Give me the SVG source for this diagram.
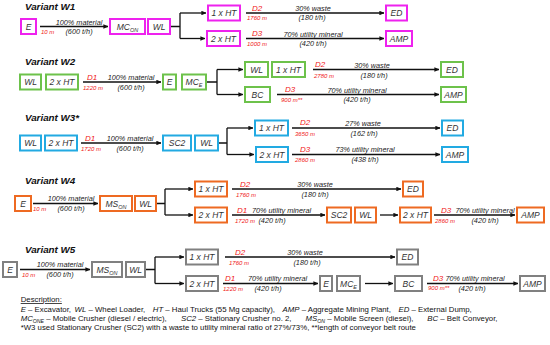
<svg xmlns="http://www.w3.org/2000/svg" width="550" height="345" viewBox="0 0 550 345">
<style>
text{font-family:"Liberation Sans",Arial,sans-serif}
.bx{fill:#fff;stroke-width:2}
.m{stroke:#EE22EE}
.g{stroke:#6DC24B}
.b{stroke:#22AAE2}
.o{stroke:#EE6A22}
.y{stroke:#808080}
.bt{font-style:italic;font-size:8.5px;fill:#333;text-anchor:middle}
.lb{font-style:italic;font-size:7.3px;fill:#222;text-anchor:middle}
.d{font-style:italic;font-size:8px;fill:#F01818;text-anchor:middle}
.dm{font-style:italic;font-size:6px;fill:#F01818}
.ti{font-style:italic;font-weight:bold;font-size:9.8px;fill:#111}
.desc{font-size:7.8px;fill:#111}
.it{font-style:italic}
.c line,.c path{stroke:#111;stroke-width:1.3;fill:none}
.c .a{marker-end:url(#ah)}
</style>
<defs>
<marker id="ah" viewBox="0 0 5 4.5" refX="4.6" refY="2.25" markerWidth="5" markerHeight="4.5" markerUnits="userSpaceOnUse" orient="auto">
<path d="M0,0 L5,2.25 L0,4.5 z" fill="#111"/>
</marker>
</defs>
<rect width="550" height="345" fill="#fff"/>

<!-- Titles -->
<g id="titles">
<text class="ti" x="25" y="10">Variant W1</text>
<text class="ti" x="25" y="65">Variant W2</text>
<text class="ti" x="25" y="121">Variant W3*</text>
<text class="ti" x="25" y="184">Variant W4</text>
<text class="ti" x="25" y="253">Variant W5</text>
</g>

<!-- Connectors -->
<g id="connectors" class="c">
<!-- W1 -->
<line class="a" x1="40" y1="26.5" x2="108" y2="26.5"/>
<path d="M170,26.5 H180 M180,13 V38.5"/>
<line class="a" x1="180" y1="13" x2="206" y2="13"/>
<line class="a" x1="180" y1="38.5" x2="205" y2="38.5"/>
<line class="a" x1="246" y1="13" x2="384" y2="13"/>
<line class="a" x1="246" y1="38.5" x2="384" y2="38.5"/>
<!-- W2 -->
<line class="a" x1="83" y1="82" x2="161" y2="82"/>
<path d="M206,82 H217 M217,69.5 V94.5"/>
<line class="a" x1="217" y1="69.5" x2="243" y2="69.5"/>
<line class="a" x1="217" y1="94.5" x2="243" y2="94.5"/>
<line class="a" x1="313" y1="69.5" x2="439" y2="69.5"/>
<line class="a" x1="277" y1="94.5" x2="439" y2="94.5"/>
<!-- W3 -->
<line class="a" x1="81" y1="143" x2="161" y2="143"/>
<path d="M218,143 H227 M227,128 V154.5"/>
<line class="a" x1="227" y1="128" x2="253" y2="128"/>
<line class="a" x1="227" y1="154.5" x2="254" y2="154.5"/>
<line class="a" x1="292" y1="128" x2="440" y2="128"/>
<line class="a" x1="292" y1="154.5" x2="440" y2="154.5"/>
<!-- W4 -->
<line class="a" x1="33" y1="203.5" x2="98" y2="203.5"/>
<path d="M156,203.5 H165 M165,189 V215"/>
<line class="a" x1="165" y1="189" x2="193" y2="189"/>
<line class="a" x1="165" y1="215" x2="193" y2="215"/>
<line class="a" x1="232" y1="189" x2="401" y2="189"/>
<line class="a" x1="232" y1="215" x2="325" y2="215"/>
<line class="a" x1="380" y1="215" x2="398" y2="215"/>
<line class="a" x1="434" y1="215" x2="515" y2="215"/>
<!-- W5 -->
<line class="a" x1="20" y1="269.5" x2="90" y2="269.5"/>
<path d="M145,269.5 H155 M155,257 V283.5"/>
<line class="a" x1="155" y1="257" x2="184" y2="257"/>
<line class="a" x1="155" y1="283.5" x2="184" y2="283.5"/>
<line class="a" x1="225" y1="257" x2="395" y2="257"/>
<line class="a" x1="223" y1="283.5" x2="318" y2="283.5"/>
<line class="a" x1="365" y1="283.5" x2="393" y2="283.5"/>
<line class="a" x1="427" y1="283.5" x2="518" y2="283.5"/>
</g>

<!-- Connector labels -->
<g id="labels">
<!-- W1 -->
<text class="lb" x="79" y="24.5">100% material</text>
<text class="lb" x="79" y="34">(600 t/h)</text>
<text class="dm" x="41" y="34">10 m</text>
<text class="d" x="257" y="10.5">D2</text>
<text class="dm" x="247" y="20">1760 m</text>
<text class="lb" x="313" y="11">30% waste</text>
<text class="lb" x="312" y="20">(180 t/h)</text>
<text class="d" x="257" y="36">D3</text>
<text class="dm" x="247" y="45.5">1000 m</text>
<text class="lb" x="313" y="36.5">70% utility mineral</text>
<text class="lb" x="313" y="45.5">(420 t/h)</text>
<!-- W2 -->
<text class="d" x="92" y="79.5">D1</text>
<text class="dm" x="83" y="89.5">1220 m</text>
<text class="lb" x="131" y="80">100% material</text>
<text class="lb" x="131" y="89.5">(600 t/h)</text>
<text class="d" x="320" y="67">D2</text>
<text class="dm" x="314" y="77.5">2780 m</text>
<text class="lb" x="372" y="67.5">30% waste</text>
<text class="lb" x="374" y="77.5">(180 t/h)</text>
<text class="d" x="290" y="92">D3</text>
<text class="dm" x="281" y="101.5">900 m**</text>
<text class="lb" x="357" y="92.5">70% utility mineral</text>
<text class="lb" x="357" y="102">(420 t/h)</text>
<!-- W3 -->
<text class="d" x="90" y="140.5">D1</text>
<text class="dm" x="81" y="150.5">1720 m</text>
<text class="lb" x="130" y="140.5">100% material</text>
<text class="lb" x="130" y="150.5">(600 t/h)</text>
<text class="d" x="305" y="125">D2</text>
<text class="dm" x="295" y="135.5">3650 m</text>
<text class="lb" x="363" y="125.5">27% waste</text>
<text class="lb" x="364" y="135.5">(162 t/h)</text>
<text class="d" x="305" y="152">D3</text>
<text class="dm" x="295" y="162">2860 m</text>
<text class="lb" x="365" y="152">73% utility mineral</text>
<text class="lb" x="365" y="162">(438 t/h)</text>
<!-- W4 -->
<text class="lb" x="71" y="201">100% material</text>
<text class="dm" x="33" y="211">10 m</text>
<text class="lb" x="71" y="211">(600 t/h)</text>
<text class="d" x="245" y="186.5">D2</text>
<text class="dm" x="236" y="196.5">1760 m</text>
<text class="lb" x="315" y="187">30% waste</text>
<text class="lb" x="315" y="196.5">(180 t/h)</text>
<text class="d" x="242" y="212.5">D1</text>
<text class="lb" x="281.5" y="212.5">70% utility mineral</text>
<text class="dm" x="235" y="222.5">1720 m</text>
<text class="lb" x="272" y="222.5">(420 t/h)</text>
<text class="d" x="446" y="212.5">D3</text>
<text class="lb" x="485" y="212.5">70% utility mineral</text>
<text class="dm" x="435" y="222.5">2860 m</text>
<text class="lb" x="485" y="222.5">(420 t/h)</text>
<!-- W5 -->
<text class="lb" x="60" y="267">100% material</text>
<text class="dm" x="22" y="277">10 m</text>
<text class="lb" x="60" y="277">(600 t/h)</text>
<text class="d" x="240" y="254.5">D2</text>
<text class="dm" x="229" y="264.5">1760 m</text>
<text class="lb" x="305" y="254.5">30% waste</text>
<text class="lb" x="307" y="264.5">(180 t/h)</text>
<text class="d" x="230" y="281">D1</text>
<text class="lb" x="277.5" y="281">70% utility mineral</text>
<text class="dm" x="223" y="291">1220 m</text>
<text class="lb" x="268" y="291">(420 t/h)</text>
<text class="d" x="438" y="281">D3</text>
<text class="dm" x="428" y="290">900 m**</text>
<text class="lb" x="475" y="281">70% utility mineral</text>
<text class="lb" x="472" y="291">(420 t/h)</text>
</g>

<!-- W1 nodes -->
<g id="w1-e"><rect class="bx m" x="21" y="19" width="15" height="15"/><text class="bt" x="28.5" y="29.5">E</text></g>
<g id="w1-mc"><rect class="bx m" x="110" y="19" width="35" height="15"/><text class="bt" x="127.5" y="29.5">MC<tspan font-size="5.5" dy="2">ON</tspan></text></g>
<g id="w1-wl"><rect class="bx m" x="148" y="19" width="22" height="15"/><text class="bt" x="159" y="29.5">WL</text></g>
<g id="w1-ht1"><rect class="bx m" x="208" y="5.5" width="32" height="15"/><text class="bt" x="224" y="16">1 x HT</text></g>
<g id="w1-ht2"><rect class="bx m" x="207" y="31" width="33" height="15"/><text class="bt" x="223.5" y="41.5">2 x HT</text></g>
<g id="w1-ed"><rect class="bx m" x="386" y="5.5" width="21" height="15"/><text class="bt" x="396.5" y="16">ED</text></g>
<g id="w1-amp"><rect class="bx m" x="386" y="31" width="26" height="15"/><text class="bt" x="399" y="41.5">AMP</text></g>

<!-- W2 nodes -->
<g id="w2-wl"><rect class="bx g" x="20" y="74.5" width="21" height="15"/><text class="bt" x="30.5" y="85">WL</text></g>
<g id="w2-ht"><rect class="bx g" x="46" y="74.5" width="32" height="15"/><text class="bt" x="62" y="85">2 x HT</text></g>
<g id="w2-e"><rect class="bx g" x="163" y="74.5" width="13" height="15"/><text class="bt" x="169.5" y="85">E</text></g>
<g id="w2-mc"><rect class="bx g" x="182" y="74.5" width="24" height="15"/><text class="bt" x="194" y="85">MC<tspan font-size="5.5" dy="2">E</tspan></text></g>
<g id="w2-wl2"><rect class="bx g" x="245" y="62" width="23" height="15"/><text class="bt" x="256.5" y="72.5">WL</text></g>
<g id="w2-ht1"><rect class="bx g" x="272" y="62" width="33" height="15"/><text class="bt" x="288.5" y="72.5">1 x HT</text></g>
<g id="w2-ed"><rect class="bx g" x="441" y="62" width="22" height="15"/><text class="bt" x="452" y="72.5">ED</text></g>
<g id="w2-bc"><rect class="bx g" x="245" y="87" width="25" height="15"/><text class="bt" x="257.5" y="97.5">BC</text></g>
<g id="w2-amp"><rect class="bx g" x="441" y="87" width="25" height="15"/><text class="bt" x="453.5" y="97.5">AMP</text></g>

<!-- W3 nodes -->
<g id="w3-wl"><rect class="bx b" x="20" y="135.5" width="21" height="15"/><text class="bt" x="30.5" y="146">WL</text></g>
<g id="w3-ht"><rect class="bx b" x="45" y="135.5" width="32" height="15"/><text class="bt" x="61" y="146">2 x HT</text></g>
<g id="w3-sc2"><rect class="bx b" x="163" y="135.5" width="28" height="15"/><text class="bt" x="177" y="146">SC2</text></g>
<g id="w3-wl2"><rect class="bx b" x="195" y="135.5" width="23" height="15"/><text class="bt" x="206.5" y="146">WL</text></g>
<g id="w3-ht1"><rect class="bx b" x="255" y="120.5" width="33" height="15"/><text class="bt" x="271.5" y="131">1 x HT</text></g>
<g id="w3-ht2"><rect class="bx b" x="256" y="147" width="32" height="15"/><text class="bt" x="272" y="157.5">2 x HT</text></g>
<g id="w3-ed"><rect class="bx b" x="442" y="120.5" width="21" height="15"/><text class="bt" x="452.5" y="131">ED</text></g>
<g id="w3-amp"><rect class="bx b" x="442" y="147" width="26" height="15"/><text class="bt" x="455" y="157.5">AMP</text></g>

<!-- W4 nodes -->
<g id="w4-e"><rect class="bx o" x="15" y="196" width="16" height="15"/><text class="bt" x="23" y="206.5">E</text></g>
<g id="w4-ms"><rect class="bx o" x="100" y="196" width="32" height="15"/><text class="bt" x="116" y="206.5">MS<tspan font-size="5.5" dy="2">ON</tspan></text></g>
<g id="w4-wl"><rect class="bx o" x="135" y="196" width="21" height="15"/><text class="bt" x="145.5" y="206.5">WL</text></g>
<g id="w4-ht1"><rect class="bx o" x="195" y="181.5" width="32" height="15"/><text class="bt" x="211" y="192">1 x HT</text></g>
<g id="w4-ht2"><rect class="bx o" x="195" y="207.5" width="32" height="15"/><text class="bt" x="211" y="218">2 x HT</text></g>
<g id="w4-ed"><rect class="bx o" x="403" y="181.5" width="20" height="15"/><text class="bt" x="413" y="192">ED</text></g>
<g id="w4-sc2"><rect class="bx o" x="327" y="207.5" width="24" height="15"/><text class="bt" x="339" y="218">SC2</text></g>
<g id="w4-wl2"><rect class="bx o" x="355" y="207.5" width="21" height="15"/><text class="bt" x="365.5" y="218">WL</text></g>
<g id="w4-ht3"><rect class="bx o" x="400" y="207.5" width="31" height="15"/><text class="bt" x="415.5" y="218">2 x HT</text></g>
<g id="w4-amp"><rect class="bx o" x="517" y="207.5" width="27" height="15"/><text class="bt" x="530.5" y="218">AMP</text></g>

<!-- W5 nodes -->
<g id="w5-e"><rect class="bx y" x="3" y="262" width="14" height="15"/><text class="bt" x="10" y="272.5">E</text></g>
<g id="w5-ms"><rect class="bx y" x="92" y="262" width="30" height="15"/><text class="bt" x="107" y="272.5">MS<tspan font-size="5.5" dy="2">ON</tspan></text></g>
<g id="w5-wl"><rect class="bx y" x="126" y="262" width="19" height="15"/><text class="bt" x="135.5" y="272.5">WL</text></g>
<g id="w5-ht1"><rect class="bx y" x="186" y="249.5" width="32" height="15"/><text class="bt" x="202" y="260">1 x HT</text></g>
<g id="w5-ht2"><rect class="bx y" x="186" y="276" width="32" height="15"/><text class="bt" x="202" y="286.5">2 x HT</text></g>
<g id="w5-ed"><rect class="bx y" x="397" y="249.5" width="21" height="15"/><text class="bt" x="407.5" y="260">ED</text></g>
<g id="w5-e2"><rect class="bx y" x="320" y="276" width="12" height="15"/><text class="bt" x="326" y="286.5">E</text></g>
<g id="w5-mc"><rect class="bx y" x="337" y="276" width="23" height="15"/><text class="bt" x="348.5" y="286.5">MC<tspan font-size="5.5" dy="2">E</tspan></text></g>
<g id="w5-bc"><rect class="bx y" x="395" y="276" width="27" height="15"/><text class="bt" x="408.5" y="286.5">BC</text></g>
<g id="w5-amp"><rect class="bx y" x="520" y="276" width="25" height="15"/><text class="bt" x="532.5" y="286.5">AMP</text></g>

<!-- Description -->
<g id="description">
<text class="desc" x="20.7" y="302" text-decoration="underline">Description:</text>
<text class="desc" y="312"><tspan x="20.7" class="it">E</tspan> – Excavator,<tspan x="74.6" class="it">WL</tspan> – Wheel Loader,<tspan x="152.8" class="it">HT</tspan> – Haul Trucks (55 Mg capacity),<tspan x="282.6" class="it">AMP</tspan> – Aggregate Mining Plant,<tspan x="398.5" class="it">ED</tspan> – External Dump,</text>
<text class="desc" y="321"><tspan x="20.7" class="it">MC<tspan font-size="5.2" dy="1.5">ONE</tspan></tspan><tspan dy="-1.5"> – Mobile Crusher (diesel / electric),</tspan><tspan x="181" class="it">SC2</tspan> – Stationary Crusher no. 2,<tspan x="305.5" class="it">MS<tspan font-size="5.2" dy="1.5">ON</tspan></tspan><tspan dy="-1.5"> – Mobile Screen (diesel),</tspan><tspan x="427.3" class="it">BC</tspan> – Belt Conveyor,</text>
<text class="desc" x="20.7" y="330">*W3 used Stationary Crusher (SC2) with a waste to utility mineral ratio of 27%/73%, **length of conveyor belt route</text>
</g>
</svg>
